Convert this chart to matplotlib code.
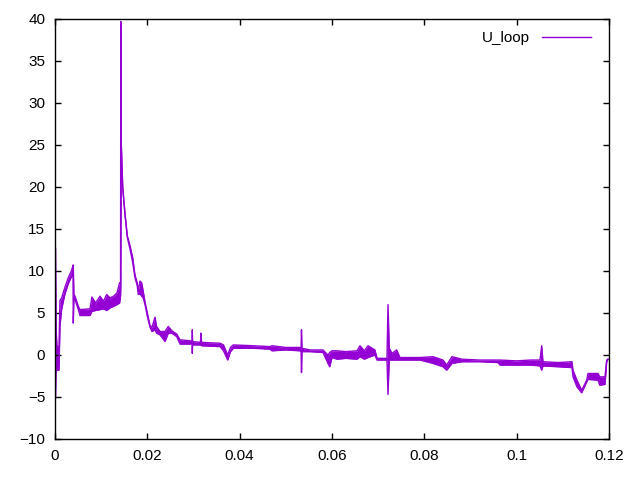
import matplotlib
matplotlib.use("Agg")
import matplotlib.pyplot as plt

# time [s] and lower/upper envelope of U_loop
t = [0.00012, 0.00025, 0.00043, 0.00087, 0.00108, 0.00145, 0.00217, 0.00288,
     0.00362, 0.00390, 0.00396, 0.00410, 0.00433, 0.00505, 0.00542, 0.00758,
     0.00800, 0.00880, 0.00975, 0.0105, 0.0112, 0.0119, 0.0127, 0.01343,
     0.01400, 0.01420, 0.01425, 0.01435,
     0.01466, 0.01516, 0.01566, 0.01625, 0.01683, 0.01733, 0.01780, 0.01804,
     0.01840, 0.01878, 0.01910, 0.0195, 0.0200, 0.02058, 0.02100, 0.02166,
     0.02200, 0.02274, 0.02383, 0.02454, 0.02528, 0.02636, 0.02708, 0.02924,
     0.02970, 0.02974, 0.02980, 0.03150, 0.03162, 0.03175, 0.03574, 0.03650,
     0.0374, 0.03800, 0.03862, 0.04300, 0.04657, 0.04700, 0.05000, 0.05307,
     0.05330, 0.05339, 0.05350, 0.05523, 0.05805, 0.05913, 0.05950, 0.0600,
     0.06108, 0.06300, 0.06541, 0.06606, 0.0670, 0.0678, 0.06931, 0.06975,
     0.07191, 0.07213, 0.07240, 0.07300, 0.07401, 0.07473, 0.07906, 0.08188,
     0.08404, 0.08484, 0.08599, 0.08816, 0.09200, 0.09596, 0.09639, 0.1000,
     0.10300, 0.10505, 0.10542, 0.1057, 0.1090, 0.11198, 0.1122, 0.11307,
     0.11408, 0.11517, 0.11545, 0.11762, 0.11800, 0.11913, 0.1195, 0.11978]
u_lo = [-5.0, -1.5, -1.8, -1.8, 3.5, 5.5, 7.3, 8.5,
        9.4, 9.8, 3.8, 6.8, 6.6, 5.4, 4.7, 4.7,
        5.2, 5.3, 5.4, 5.5, 5.3, 5.6, 5.8, 6.0,
        6.2, 7.0, 8.0, 25.0,
        20.0, 16.8, 14.0, 12.6, 11.0, 9.2, 8.3, 7.2,
        7.3, 7.0, 6.8, 6.0, 4.6, 3.3, 2.8, 3.0,
        2.6, 2.4, 1.6, 2.6, 2.6, 2.2, 1.3, 1.3,
        1.3, 0.2, 1.2, 1.2, 1.2, 1.1, 1.0, 0.5,
        -0.6, 0.4, 0.8, 0.8, 0.7, 0.5, 0.6, 0.5,
        0.4, -2.1, 0.4, 0.4, 0.3, -1.0, -1.4, -0.3,
        -0.5, -0.4, -0.5, -0.2, -0.5, -0.3, 0.0, -0.6,
        -0.6, -4.7, -0.6, -0.6, -0.6, -0.6, -0.6, -1.0,
        -1.4, -1.8, -1.0, -0.8, -0.8, -0.9, -1.2, -1.2,
        -1.2, -1.3, -1.8, -1.3, -1.4, -1.5, -2.6, -3.8,
        -4.5, -3.2, -2.9, -3.0, -3.6, -3.5, -0.8, -0.5]
u_hi = [12.7, 3.0, 1.0, 1.0, 6.5, 6.8, 8.1, 9.2,
        10.1, 10.7, 10.7, 7.2, 7.0, 5.8, 5.4, 5.5,
        6.9, 6.2, 7.0, 6.4, 7.2, 6.8, 7.0, 7.4,
        8.6, 8.5, 39.7, 25.2,
        20.0, 16.8, 14.2, 13.0, 11.6, 9.5, 8.6, 7.6,
        8.8, 8.6, 7.6, 6.3, 5.0, 3.5, 3.3, 4.5,
        3.4, 2.8, 2.8, 3.4, 2.9, 2.5, 1.8, 1.7,
        1.6, 3.0, 1.6, 1.5, 2.6, 1.5, 1.4, 1.2,
        0.0, 0.9, 1.2, 1.1, 1.0, 1.1, 0.9, 0.9,
        0.8, 3.0, 0.8, 0.6, 0.6, 0.0, 0.3, 0.5,
        0.5, 0.4, 0.5, 1.1, 0.5, 1.1, 0.6, -0.4,
        -0.4, 6.0, 0.8, 0.2, 0.6, -0.3, -0.3, -0.2,
        -0.6, -1.2, -0.2, -0.5, -0.6, -0.6, -0.6, -0.7,
        -0.6, -0.6, 1.1, -0.8, -0.9, -0.8, -1.8, -3.0,
        -4.2, -3.0, -2.2, -2.2, -2.6, -2.6, -0.6, -0.5]

x_ticks = [0, 0.02, 0.04, 0.06, 0.08, 0.1, 0.12]
x_labels = ["0", "0.02", "0.04", "0.06", "0.08", "0.1", "0.12"]
y_ticks = [-10, -5, 0, 5, 10, 15, 20, 25, 30, 35, 40]

color = "#9400d3"
plt.rcParams["font.family"] = ["Liberation Sans", "DejaVu Sans"]
plt.rcParams["font.size"] = 11

fig = plt.figure(figsize=(6.4, 4.8), dpi=100)
ax = fig.add_axes([55 / 640, 1 - 439 / 480, 554 / 640, 420 / 480])

ax.fill_between(t, u_lo, u_hi, color=color, linewidth=0)
ax.plot(t, u_lo, color=color, linewidth=1)
ax.plot(t, u_hi, color=color, linewidth=1, label="U_loop")

ax.set_xlim(0, 0.12)
ax.set_ylim(-10, 40)
ax.set_xticks(x_ticks)
ax.set_xticklabels(x_labels)
ax.set_yticks(y_ticks)
ax.tick_params(direction="in", length=4, width=1, top=True, right=True, pad=7)
for s in ax.spines.values():
    s.set_linewidth(1)

ax.legend(loc="upper right", frameon=False, markerfirst=False,
          handlelength=3.2, bbox_to_anchor=(0.99, 1.0), borderaxespad=0.4)

fig.savefig("out.png", dpi=100)
